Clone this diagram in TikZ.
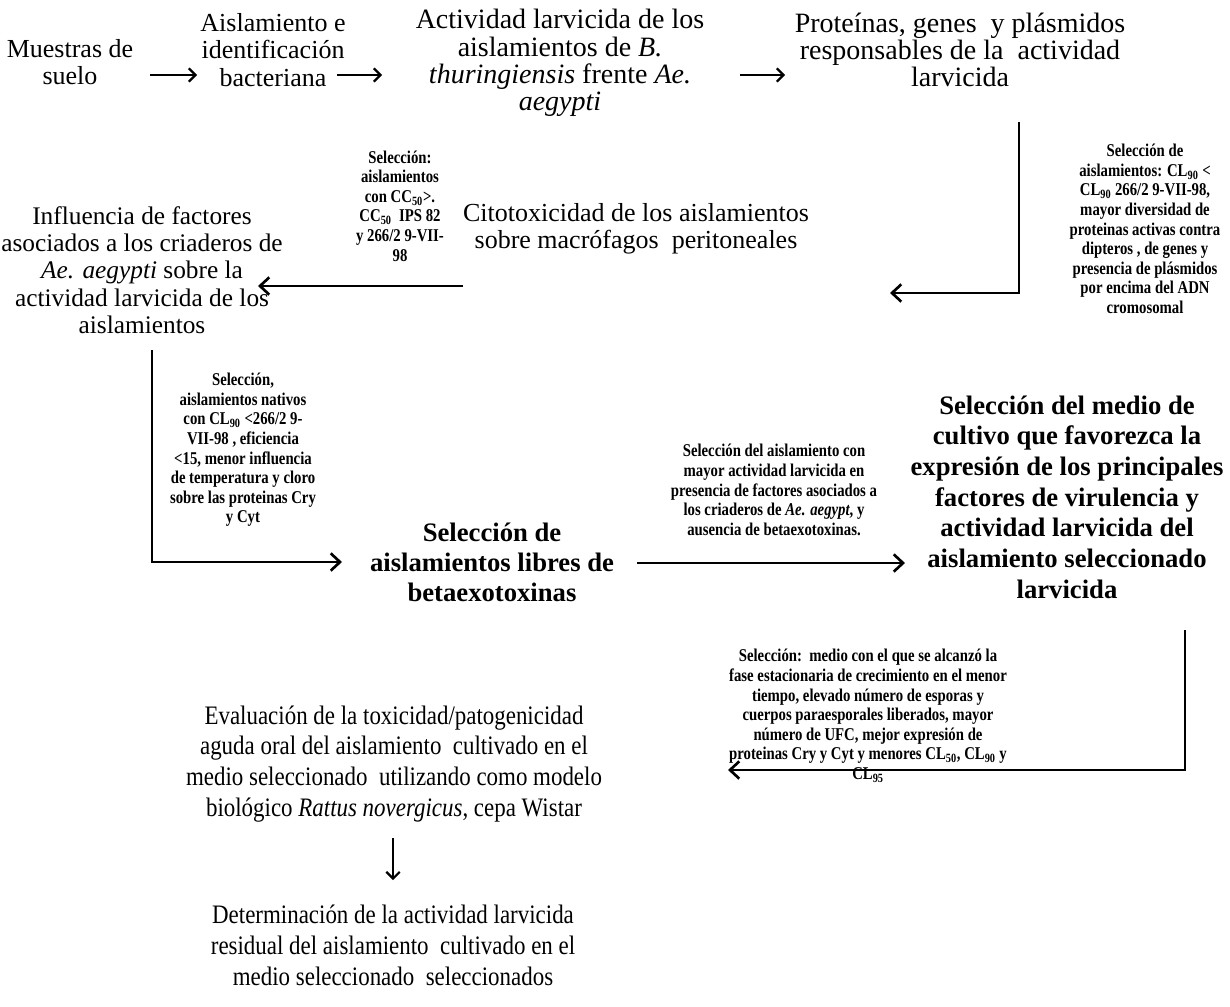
\documentclass[tikz,border=0pt]{standalone}
\usepackage{fontspec}
\setmainfont{Liberation Serif}
\newfontfamily\condf{Liberation Serif}[FakeStretch=0.86]
\newfontfamily\smallf{Liberation Serif}[FakeStretch=0.82]
\usetikzlibrary{arrows.meta}
\begin{document}
\begin{tikzpicture}[x=0.75pt,y=-0.75pt,
 main/.style={align=center,inner sep=0pt,font=\fontsize{19.5}{20.5}\selectfont},
 mainl/.style={align=center,inner sep=0pt,font=\fontsize{21}{20.5}\selectfont},
 bigb/.style={align=center,inner sep=0pt,font=\fontsize{20}{23}\selectfont\bfseries},
 bigc/.style={align=center,inner sep=0pt,font=\fontsize{20}{22.5}\selectfont\bfseries},
 low/.style={align=center,inner sep=0pt,font=\condf\fontsize{20}{23.2}\selectfont},
 lab/.style={align=center,inner sep=0pt,font=\smallf\bfseries\fontsize{13.5}{14.7}\selectfont},
 arr/.style={line width=2.2pt,-{Straight Barb[length=7pt,width=13pt,line width=2pt]}},
 sarr/.style={line width=1.6pt,-{Straight Barb[length=5pt,width=10pt,line width=1.6pt]}},
]
\fill[white] (0,0) rectangle (1230,1006);
\useasboundingbox (0,0) rectangle (1230,1006);

% row 1
\node[main] (n1) at (70,62) {Muestras de\\suelo};
\node[main] (n2) at (273,50) {Aislamiento e\\identificación\\bacteriana};
\node[mainl] (n3) at (560,63) {Actividad larvicida de los\\aislamientos de \textit{B.}\\\textit{thuringiensis} frente \textit{Ae.}\\\textit{aegypti}};
\node[mainl] (n4) at (960,50) {Proteínas, genes\ \ y plásmidos\\responsables de la\ \ actividad\\larvicida};

\coordinate (a1s) at (150,75); \coordinate (a1e) at (197,75);
\coordinate (a2s) at (337,75); \coordinate (a2e) at (382,75);
\coordinate (a3s) at (740,75); \coordinate (a3e) at (785,75);
\draw[sarr] (a1s) -- (a1e);
\draw[sarr] (a2s) -- (a2e);
\draw[sarr] (a3s) -- (a3e);

% right label 1
\node[lab] (l1) at (1145,229) {Selección de\\aislamientos: CL\textsubscript{90} <\\CL\textsubscript{90} 266/2 9-VII-98,\\mayor diversidad de\\proteinas activas contra\\dipteros , de genes y\\presencia de plásmidos\\por encima del ADN\\cromosomal};
\coordinate (c1s) at (1019,122); \coordinate (c1e) at (890,293);
\draw[arr] (c1s) |- (c1e);

% row 2
\node[main] (n5) at (636,229) {Citotoxicidad de los aislamientos\\sobre macrófagos\ \ peritoneales};
\node[lab] (l2) at (400,206) {Selección:\\aislamientos\\con CC\textsubscript{50}>.\\CC\textsubscript{50}\ \ IPS 82\\y 266/2 9-VII-\\98};
\coordinate (c2s) at (463,286); \coordinate (c2e) at (258,286);
\draw[arr] (c2s) -- (c2e);
\node[main, font=\fontsize{19}{20.5}\selectfont] (n6) at (142,270) {Influencia de factores\\asociados a los criaderos de\\\textit{Ae. aegypti} sobre la\\actividad larvicida de los\\aislamientos};

% row 3
\node[lab] (l3) at (243,450) {Selección,\\aislamientos nativos\\con CL\textsubscript{90} <266/2 9-\\VII-98 , eficiencia\\<15, menor influencia\\de temperatura y cloro\\sobre las proteinas Cry\\y Cyt};
\coordinate (c3s) at (152,350); \coordinate (c3e) at (342,562);
\draw[arr] (c3s) |- (c3e);
\node[bigc] (n7) at (492,562) {Selección de\\aislamientos libres de\\betaexotoxinas};
\node[lab] (l4) at (774,490) {Selección del aislamiento con\\mayor actividad larvicida en\\presencia de factores asociados a\\los criaderos de \textit{Ae. aegypt}, y\\ausencia de betaexotoxinas.};
\coordinate (c4s) at (637,563); \coordinate (c4e) at (905,563);
\draw[arr] (c4s) -- (c4e);
\node[bigb] (n8) at (1067,497) {Selección del medio de\\cultivo que favorezca la\\expresión de los principales\\factores de virulencia y\\actividad larvicida del\\aislamiento seleccionado\\larvicida};

% row 4
\coordinate (c5s) at (1185,630); \coordinate (c5e) at (728,770);
\draw[arr] (c5s) |- (c5e);
\node[lab] (l5) at (868,716) {Selección:\ \ medio con el que se alcanzó la\\fase estacionaria de crecimiento en el menor\\tiempo, elevado número de esporas y\\cuerpos paraesporales liberados, mayor\\número de UFC, mejor expresión de\\proteinas Cry y Cyt y menores CL\textsubscript{50}, CL\textsubscript{90} y\\CL\textsubscript{95}};
\node[low] (n9) at (394,764) {Evaluación de la toxicidad/patogenicidad\\aguda oral del aislamiento\ \ cultivado en el\\medio seleccionado\ \ utilizando como modelo\\biológico \textit{Rattus novergicus}, cepa Wistar};
\coordinate (c6s) at (393,838); \coordinate (c6e) at (393,880);
\draw[sarr] (c6s) -- (c6e);
\node[low] (n10) at (393,945) {Determinación de la actividad larvicida\\residual del aislamiento\ \ cultivado en el\\medio seleccionado\ \ seleccionados};
\end{tikzpicture}
\end{document}
